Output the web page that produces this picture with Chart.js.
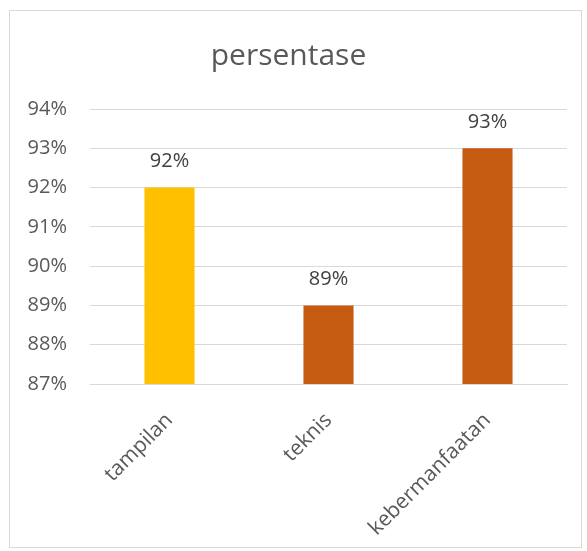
<!DOCTYPE html>
<html>
<head>
<meta charset="utf-8">
<script src="https://cdn.jsdelivr.net/npm/chart.js@4"></script>
<style>
  html, body { margin: 0; padding: 0; background: #fff; }
  #wrap { width: 587px; height: 551px; position: relative; }
</style>
</head>
<body>
<div id="wrap"><canvas id="chart" width="587" height="551"></canvas></div>
<script>
const categories = ['tampilan', 'teknis', 'kebermanfaatan'];
const values = [92, 89, 93];
const barColors = ['#FFC000', '#C55A11', '#C55A11'];
const tickValues = [87, 88, 89, 90, 91, 92, 93, 94];

const frame = {
    id: 'frame',
    beforeDraw(chart) {
        const ctx = chart.ctx;
        ctx.save();
        ctx.fillStyle = '#fff';
        ctx.fillRect(0, 0, chart.width, chart.height);
        ctx.strokeStyle = '#d9d9d9';
        ctx.lineWidth = 1;
        ctx.strokeRect(9.5, 10.5, 572, 537);
        ctx.restore();
    }
};

const valueLabels = {
    id: 'valueLabels',
    afterDatasetsDraw(chart) {
        const ctx = chart.ctx;
        const meta = chart.getDatasetMeta(0);
        ctx.save();
        ctx.font = '20px "Open Sans"';
        ctx.fillStyle = '#404040';
        ctx.textAlign = 'center';
        ctx.textBaseline = 'middle';
        meta.data.forEach((bar, i) => {
            ctx.fillText(values[i] + '%', bar.x, bar.y - 26);
        });
        ctx.restore();
    }
};

new Chart(document.getElementById('chart'), {
    type: 'bar',
    data: {
        labels: categories,
        datasets: [{
            data: values,
            backgroundColor: barColors,
            categoryPercentage: 1,
            barPercentage: 0.315
        }]
    },
    options: {
        responsive: false,
        animation: false,
        layout: { padding: { left: 10, right: 20, top: 0, bottom: 0 } },
        plugins: {
            legend: { display: false },
            tooltip: { enabled: false },
            title: {
                display: true,
                text: 'persentase',
                color: '#595959',
                font: { family: 'Open Sans', size: 30, weight: 'normal', lineHeight: 1.2 },
                padding: { top: 38.5, bottom: 34.5 }
            }
        },
        scales: {
            x: {
                grid: { display: false, drawTicks: false },
                border: { display: true, color: '#d9d9d9', width: 1 },
                ticks: {
                    color: '#595959',
                    font: { family: 'Open Sans', size: 21 },
                    maxRotation: 45,
                    minRotation: 45,
                    padding: 24
                },
                afterFit(scale) { scale.height = 551 - 384; }
            },
            y: {
                min: 87,
                max: 94,
                afterBuildTicks(scale) {
                    scale.ticks = tickValues.map(v => ({ value: v }));
                },
                grid: { color: '#d9d9d9', lineWidth: 1, drawTicks: false },
                border: { display: false },
                ticks: {
                    color: '#595959',
                    font: { family: 'Open Sans', size: 20 },
                    padding: 23,
                    callback: v => v + '%'
                },
                afterFit(scale) { scale.width = 80; }
            }
        }
    },
    plugins: [frame, valueLabels]
});
</script>
</body>
</html>
